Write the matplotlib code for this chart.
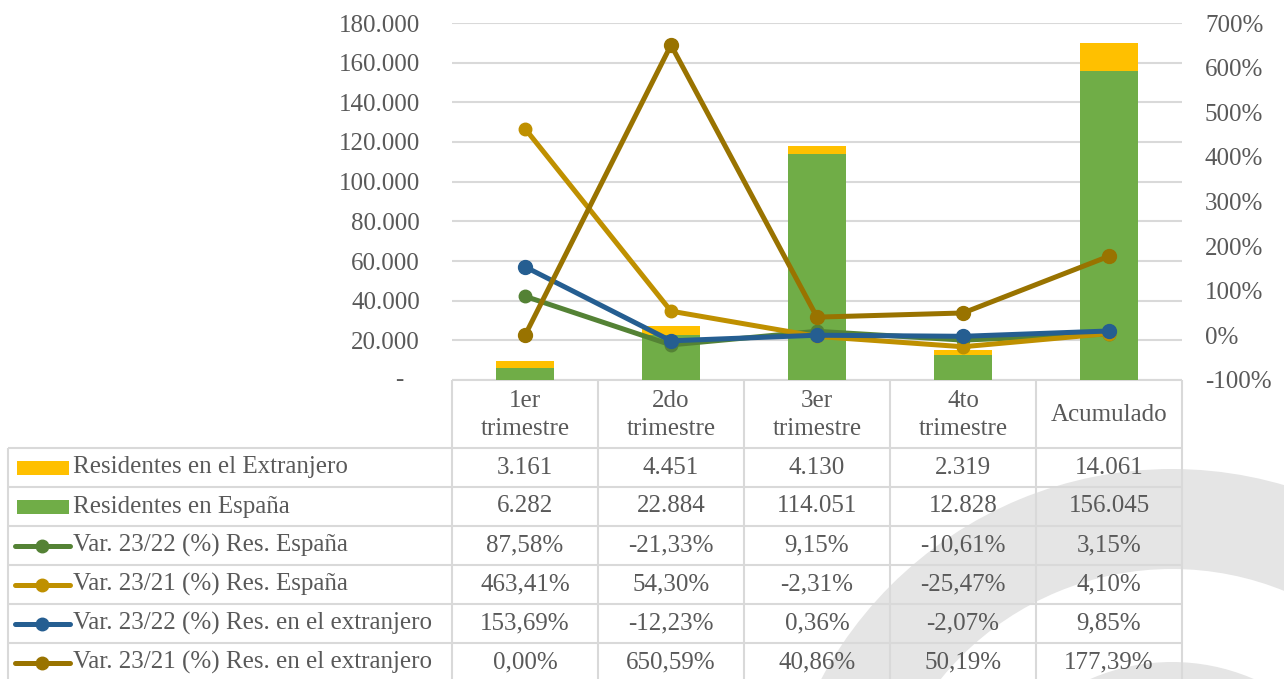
import matplotlib
matplotlib.use("Agg")
import matplotlib.pyplot as plt
from matplotlib.patches import Wedge, Rectangle
import matplotlib.transforms as mtransforms

plt.rcParams['font.family'] = ['Liberation Serif', 'DejaVu Serif']

# ---------------- data ----------------
categories = ["1er\ntrimestre", "2do\ntrimestre", "3er\ntrimestre", "4to\ntrimestre", "Acumulado"]
res_extranjero = [3161, 4451, 4130, 2319, 14061]
res_espana = [6282, 22884, 114051, 12828, 156045]
var2322_esp = [87.58, -21.33, 9.15, -10.61, 3.15]
var2321_esp = [463.41, 54.30, -2.31, -25.47, 4.10]
var2322_ext = [153.69, -12.23, 0.36, -2.07, 9.85]
var2321_ext = [0.00, 650.59, 40.86, 50.19, 177.39]
left_ticks = [0, 20000, 40000, 60000, 80000, 100000, 120000, 140000, 160000, 180000]
right_ticks = [-100, 0, 100, 200, 300, 400, 500, 600, 700]

series_names = ["Residentes en el Extranjero", "Residentes en España",
                "Var. 23/22 (%) Res. España", "Var. 23/21 (%) Res. España",
                "Var. 23/22 (%) Res. en el extranjero", "Var. 23/21 (%) Res. en el extranjero"]

C_YEL = "#FFC000"
C_GRN = "#70AD47"
C_LGRN = "#548235"
C_GOLD = "#BF9000"
C_BLUE = "#255E91"
C_DGOLD = "#997300"
TXT = "#595959"
GRID = "#D9D9D9"
FS = 18


def fmt_int(v):
    return f"{v:,}".replace(",", ".")


def fmt_pct(v):
    return f"{v:.2f}".replace(".", ",") + "%"


W, H = 1284, 679
fig = plt.figure(figsize=(W / 100, H / 100), dpi=100)
fig.patch.set_facecolor("white")

# background / table axes in pixel coords
bg = fig.add_axes([0, 0, 1, 1], zorder=0)
bg.set_xlim(0, W)
bg.set_ylim(H, 0)
bg.axis("off")

# watermark arcs
wm = "#E5E5E5"
bg.add_patch(Wedge((1172, 867), 398, 0, 360, width=100, facecolor=wm, edgecolor="none", zorder=0))
bg.add_patch(Wedge((1172, 867), 205, 0, 360, width=100, facecolor=wm, edgecolor="none", zorder=0))

# plot area geometry (pixels)
x0, x1 = 452, 1182
ytop, ybot = 23, 380
ncat = len(categories)
colw = (x1 - x0) / ncat
header_bottom = 448
rowh = 39
nrows = len(series_names)
table_left = 8

lkw = dict(color=GRID, lw=1.5, zorder=1, solid_capstyle="butt")
for i in range(ncat + 1):
    x = x0 + i * colw
    bg.plot([x, x], [ybot, H + 5], **lkw)
bg.plot([table_left, table_left], [header_bottom, H + 5], **lkw)
bg.plot([x0, x1], [ybot, ybot], **lkw)
for r in range(nrows + 1):
    y = header_bottom + r * rowh
    bg.plot([table_left, x1], [y, y], **lkw)

for i, c in enumerate(categories):
    bg.text(x0 + (i + 0.5) * colw, (ybot + header_bottom) / 2 + 1, c, ha="center", va="center",
            fontsize=FS, color=TXT, linespacing=1.3, zorder=3)

rows_vals = [
    [fmt_int(v) for v in res_extranjero],
    [fmt_int(v) for v in res_espana],
    [fmt_pct(v) for v in var2322_esp],
    [fmt_pct(v) for v in var2321_esp],
    [fmt_pct(v) for v in var2322_ext],
    [fmt_pct(v) for v in var2321_ext],
]
row_colors = [C_YEL, C_GRN, C_LGRN, C_GOLD, C_BLUE, C_DGOLD]
for r in range(nrows):
    yc = header_bottom + (r + 0.5) * rowh
    for i in range(ncat):
        bg.text(x0 + (i + 0.5) * colw, yc, rows_vals[r][i], ha="center", va="center",
                fontsize=FS, color=TXT, zorder=3)
    bg.text(73, yc, series_names[r], ha="left", va="center", fontsize=FS, color=TXT, zorder=3)
    if r < 2:
        bg.add_patch(Rectangle((17, yc - 7), 52, 14, facecolor=row_colors[r], edgecolor="none", zorder=3))
    else:
        bg.plot([15, 70], [yc, yc], color=row_colors[r], lw=3.6, zorder=3, solid_capstyle="round")
        bg.plot([42], [yc], marker="o", color=row_colors[r], ms=9, zorder=4)

# main chart
ax = fig.add_axes([x0 / W, 1 - ybot / H, (x1 - x0) / W, (ybot - ytop) / H], zorder=2)
ax.patch.set_alpha(0)
xs = list(range(ncat))
ax.bar(xs, res_espana, width=0.4, color=C_GRN, zorder=2)
ax.bar(xs, res_extranjero, width=0.4, bottom=res_espana, color=C_YEL, zorder=2)
ax.set_xlim(-0.5, ncat - 0.5)
ax.set_ylim(left_ticks[0], left_ticks[-1])
ax.set_yticks(left_ticks)
ax.set_yticklabels(["" if v == 0 else fmt_int(v) for v in left_ticks])
ax.text(-49 / (x1 - x0), 0, "-", transform=mtransforms.blended_transform_factory(ax.transAxes, ax.transData),
        ha="right", va="center", fontsize=FS, color=TXT)
ax.set_xticks([])
ax.grid(axis="y", color=GRID, lw=1.5, zorder=0)
ax.set_axisbelow(True)
ax.tick_params(axis="y", length=0, pad=23, labelsize=FS, labelcolor=TXT)
for s in ax.spines.values():
    s.set_visible(False)

ax2 = ax.twinx()
ax2.set_zorder(3)
ax2.patch.set_alpha(0)
for vals, col, ms in [(var2322_esp, C_LGRN, 9), (var2321_esp, C_GOLD, 9),
                      (var2322_ext, C_BLUE, 10), (var2321_ext, C_DGOLD, 10)]:
    ax2.plot(xs, vals, color=col, lw=3.6, marker="o", ms=ms, zorder=3)
ax2.set_ylim(right_ticks[0], right_ticks[-1])
ax2.set_yticks(right_ticks)
ax2.set_yticklabels([f"{v}%" for v in right_ticks])
ax2.tick_params(axis="y", length=0, pad=16.5, labelsize=FS, labelcolor=TXT)
for s in ax2.spines.values():
    s.set_visible(False)

fig.savefig("out.png", dpi=100, facecolor="white")
